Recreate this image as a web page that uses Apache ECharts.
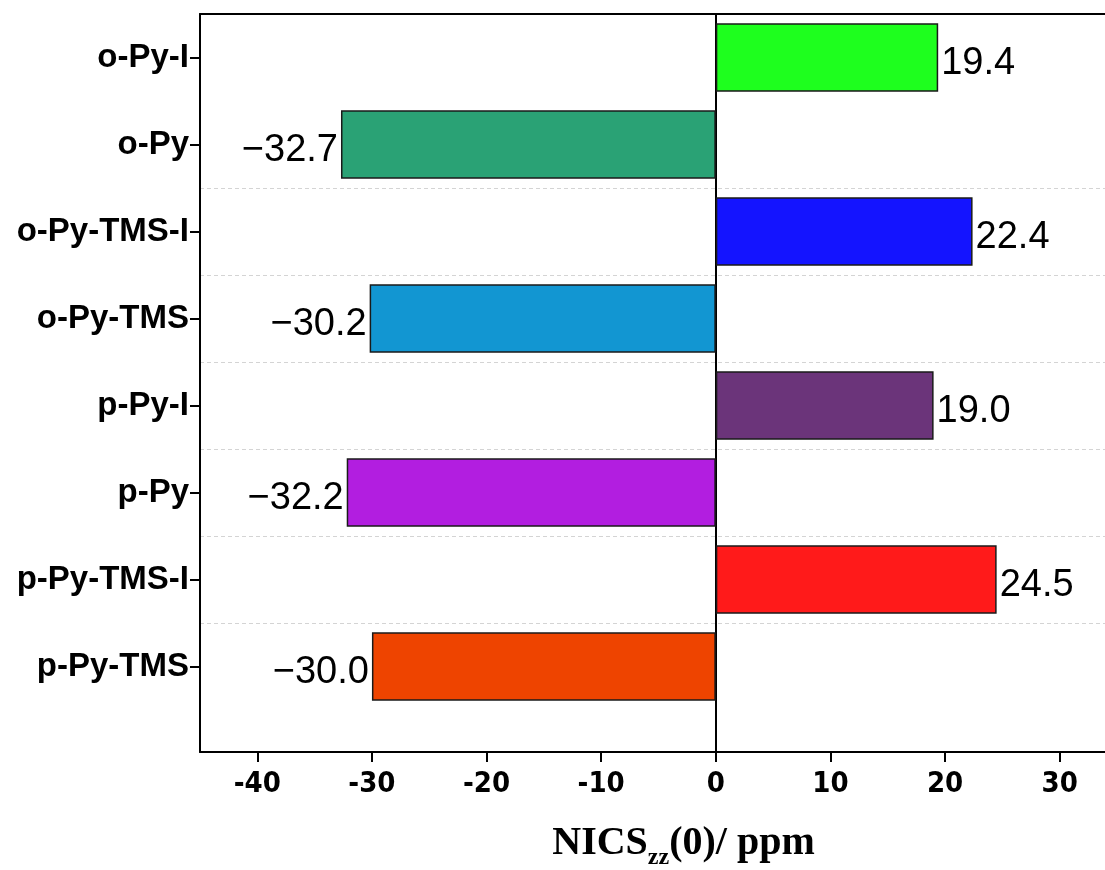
<!DOCTYPE html>
<html>
<head>
<meta charset="utf-8">
<script src="https://cdn.jsdelivr.net/npm/echarts@6/dist/echarts.min.js"></script>
<style>
  html, body { margin: 0; padding: 0; background: #fff; }
  #chart { width: 1105px; height: 870px; }
</style>
</head>
<body>
<div id="chart"></div>
<script>
// Compounds, listed top to bottom
const categories = ['o-Py-I', 'o-Py', 'o-Py-TMS-I', 'o-Py-TMS', 'p-Py-I', 'p-Py', 'p-Py-TMS-I', 'p-Py-TMS'];
// NICS_zz(0) values in ppm
const nicsValues = [19.4, -32.7, 22.4, -30.2, 19.0, -32.2, 24.5, -30.0];
// Fill colour of each bar
const barColors = ['#1EFF1E', '#2AA275', '#1414FF', '#1296D2', '#6B347A', '#B21EE0', '#FF1A1A', '#EE4400'];
// Labelled ticks on the value axis
const xTicks = [-40, -30, -20, -10, 0, 10, 20, 30];
// Band boundaries between the rows (used for the dashed separators)
const rowEdges = ['', '', '', '', '', '', '', '', ''];

const X_MIN = -45, X_MAX = 35;
const PLOT_LEFT = 200, PLOT_TOP = 14, PLOT_WIDTH = 917;

const fmt = v => (v < 0 ? '\u2212' + Math.abs(v).toFixed(1) : v.toFixed(1));

const frameLine = { show: true, onZero: false, lineStyle: { color: '#000', width: 2 } };
const hidden = { axisTick: { show: false }, axisLabel: { show: false }, splitLine: { show: false } };

const chart = echarts.init(document.getElementById('chart'), null, { renderer: 'canvas' });

chart.setOption({
  animation: false,
  backgroundColor: '#fff',
  grid: [
    // bars
    { left: PLOT_LEFT, top: PLOT_TOP, width: PLOT_WIDTH, height: 696, outerBoundsMode: 'none', containLabel: false },
    // frame, bottom axis and zero line
    { left: PLOT_LEFT, top: PLOT_TOP, width: PLOT_WIDTH, height: 738, outerBoundsMode: 'none', containLabel: false }
  ],
  xAxis: [
    { gridIndex: 0, type: 'value', min: X_MIN, max: X_MAX, show: false },
    {
      gridIndex: 1, type: 'value', min: X_MIN, max: X_MAX, position: 'bottom',
      axisLine: frameLine,
      axisTick: { show: true, customValues: xTicks, length: 10, inside: false, lineStyle: { color: '#000', width: 2 } },
      axisLabel: {
        customValues: xTicks, margin: 18, color: '#000',
        fontFamily: '"Liberation Sans Narrow", "Arial Narrow", "DejaVu Sans Condensed", sans-serif',
        fontWeight: 'bold', fontSize: 29
      },
      splitLine: { show: false },
      name: '{m|NICS}{s|zz}{m|(0)/ ppm}',
      nameLocation: 'middle',
      nameGap: 66,
      nameTextStyle: {
        padding: [0, 0, 0, 50],
        rich: {
          m: { fontFamily: 'Liberation Serif', fontWeight: 'bold', fontSize: 40, color: '#000' },
          s: { fontFamily: 'Liberation Serif', fontWeight: 'bold', fontSize: 24, color: '#000', padding: [28, 0, 0, 0] }
        }
      }
    },
    // top edge of the frame
    Object.assign({ gridIndex: 1, type: 'value', min: X_MIN, max: X_MAX, position: 'top', axisLine: frameLine }, hidden)
  ],
  yAxis: [
    {
      gridIndex: 0, type: 'category', data: categories, inverse: true,
      position: 'left',
      axisLine: { show: false, onZero: false },
      axisTick: { show: true, alignWithLabel: true, length: 10, lineStyle: { color: '#000', width: 2 } },
      axisLabel: {
        margin: 11, color: '#000',
        fontFamily: 'Liberation Sans', fontWeight: 'bold', fontSize: 33
      },
      splitLine: { show: false }
    },
    {
      // row separators: dashed lines on the band edges below the second row
      gridIndex: 0, type: 'category', data: rowEdges, boundaryGap: false, inverse: true,
      position: 'right',
      axisLine: { show: false, onZero: false },
      axisTick: { show: false },
      axisLabel: { show: false },
      splitLine: {
        show: true,
        interval: (idx) => idx >= 2 && idx <= 7,
        lineStyle: { color: '#d4d4d4', width: 1, type: [4, 3] }
      }
    },
    // left edge of the frame
    Object.assign({ gridIndex: 1, type: 'value', min: 0, max: 1, position: 'left', axisLine: frameLine }, hidden),
    // vertical line through zero
    Object.assign({
      gridIndex: 1, type: 'value', min: 0, max: 1, position: 'right',
      axisLine: { show: true, onZero: true, lineStyle: { color: '#000', width: 2 } }
    }, hidden)
  ],
  series: [
    {
      type: 'bar',
      xAxisIndex: 0,
      yAxisIndex: 0,
      barWidth: '79%',
      data: nicsValues.map((v, i) => ({
        value: v,
        itemStyle: { color: barColors[i], borderColor: '#1a1a1a', borderWidth: 1.5 },
        label: { position: v < 0 ? 'left' : 'right' }
      })),
      label: {
        show: true,
        distance: 3,
        offset: [0, 6],
        color: '#000',
        fontFamily: 'Liberation Sans',
        fontSize: 38,
        formatter: p => fmt(p.value)
      }
    }
  ]
});
</script>
</body>
</html>
